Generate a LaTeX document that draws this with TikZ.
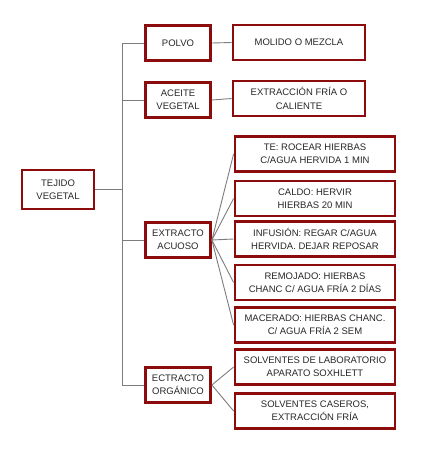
\documentclass[tikz,border=0pt]{standalone}
\usepackage{fontspec}
\setmainfont{Liberation Sans}
\definecolor{boxred}{RGB}{140,12,14}
\definecolor{txtgray}{RGB}{40,40,40}
\definecolor{linegray}{RGB}{125,125,125}
\tikzset{
  caja/.style={draw=boxred,line width=2.8pt,fill=white,text=txtgray,align=center,
    font=\fontsize{9.5}{13.3}\selectfont,inner sep=1pt},
  rama/.style={draw=linegray,line width=0.9pt}
}
\begin{document}
\begin{tikzpicture}[x=1pt,y=-1pt]
      \useasboundingbox (0,0) rectangle (425,472);
      \node[caja,minimum width=72pt,minimum height=39pt](tej) at(58,189.5) {TEJIDO\\VEGETAL};
      \foreach \n/\y/\t in{pol/43/{POLVO}, ace/100/{ACEITE\\VEGETAL}, acu/240/{EXTRACTO\\ACUOSO}, org/385/{ECTRACTO\\ORGÁNICO}}{
        \node[caja,minimum width=65pt,minimum height=35pt](\n) at(178,\y) {\t};
      }
      \foreach \n/\y/\t in{mol/42.5/{MOLIDO O MEZCLA}, fri/98.5/{EXTRACCIÓN FRÍA O\\CALIENTE}}{
        \node[caja,minimum width=132pt,minimum height=35pt](\n) at(299,\y) {\t};
      }
      \foreach \n/\y/\t in{te/154/{TE: ROCEAR HIERBAS\\C/AGUA HERVIDA 1 MIN},
          cal/198.5/{CALDO: HERVIR\\HIERBAS 20 MIN},
          inf/239/{INFUSIÓN: REGAR C/AGUA\\HERVIDA. DEJAR REPOSAR},
          rem/282.5/{REMOJADO: HIERBAS\\CHANC C/ AGUA FRÍA 2 DÍAS},
          mac/325/{MACERADO: HIERBAS CHANC.\\C/ AGUA FRÍA 2 SEM},
          lab/367/{SOLVENTES DE LABORATORIO\\APARATO SOXHLETT},
          cas/411/{SOLVENTES CASEROS,\\EXTRACCIÓN FRÍA}}{
        \node[caja,minimum width=160pt,minimum height=35pt](\n) at(315,\y) {\t};
      }
      % tronco
      \coordinate (t1) at(122,43);
      \coordinate (t2) at(122,385);
      \coordinate (t0) at(122,189.5);
      \draw[rama](t1)--(t2);
      \draw[rama](tej.east)--(t0);
      \foreach \n in{pol,ace,acu,org}{
        \draw[rama](t1 |- \n.west)--(\n.west);
      }
      \foreach \a/\b in{pol/mol, ace/fri, acu/te, acu/cal, acu/inf, acu/rem, acu/mac, org/lab, org/cas}{
        \draw[rama](\a.east)--(\b.west);
      }
    \end{tikzpicture}
\end{document}
